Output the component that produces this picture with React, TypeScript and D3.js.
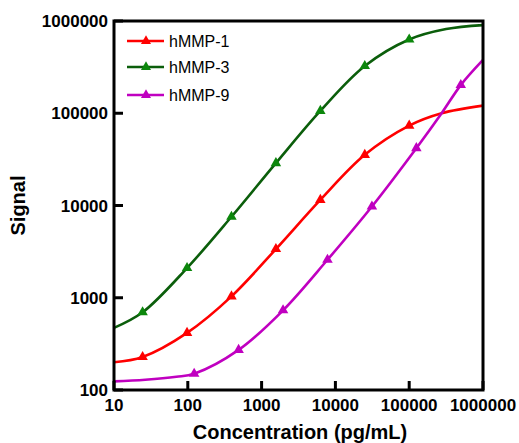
import React from "react";
import * as d3 from "d3";

// Measured points (concentration pg/mL, signal)
const concA = [24.4, 97.7, 390.6, 1562.5, 6250, 25000, 100000];
const concB = [122, 488, 1953, 7812, 31250, 125000, 500000];

const signalMMP1 = [228, 416, 1035, 3370, 11500, 35400, 73400];
const signalMMP3 = [695, 2100, 7550, 28800, 106000, 325000, 630000];
const signalMMP9 = [150, 272, 731, 2580, 9750, 41800, 202000];

// Extra points read on the fitted curves (outside / between the measured points)
const fitExtraConcMMP1 = [10, 275000, 1000000];
const fitExtraSignalMMP1 = [200, 100000, 121000];
const fitExtraConcMMP3 = [10, 316000, 1000000];
const fitExtraSignalMMP3 = [471, 817000, 903000];
const fitExtraConcMMP9 = [10, 26.5, 70, 275000, 1000000];
const fitExtraSignalMMP9 = [124, 129, 139, 100000, 378000];

const seriesNames = ["hMMP-1", "hMMP-3", "hMMP-9"];
const xTicks = [10, 100, 1000, 10000, 100000, 1000000];
const yTicks = [100, 1000, 10000, 100000, 1000000];
const xTitle = "Concentration (pg/mL)";
const yTitle = "Signal";

const FONT = "'Liberation Sans', Arial, Helvetica, sans-serif";

export default function App() {
  const W = 519, H = 443;
  const left = 114, right = 483, top = 21, bottom = 390;
  const x = d3.scaleLog().domain([10, 1e6]).range([left, right]);
  const y = d3.scaleLog().domain([100, 1e6]).range([bottom, top]);

  const series = [
    { name: seriesNames[0], conc: concA, sig: signalMMP1, ec: fitExtraConcMMP1, es: fitExtraSignalMMP1, line: "#ff0000", mark: "#ff0000" },
    { name: seriesNames[1], conc: concA, sig: signalMMP3, ec: fitExtraConcMMP3, es: fitExtraSignalMMP3, line: "#0b5e0b", mark: "#0c870c" },
    { name: seriesNames[2], conc: concB, sig: signalMMP9, ec: fitExtraConcMMP9, es: fitExtraSignalMMP9, line: "#c000c0", mark: "#c000c0" },
  ];

  const lineGen = d3
    .line<[number, number]>()
    .x((d) => x(d[0]))
    .y((d) => y(d[1]))
    .curve(d3.curveCatmullRom.alpha(0.5));

  const tri = d3.symbol().type(d3.symbolTriangle).size(48)();
  const triLegend = d3.symbol().type(d3.symbolTriangle).size(44)();

  const legendRows = [41, 67, 95];

  return (
    <svg width={W} height={H} style={{ position: "absolute", left: 0, top: 0 }} fontFamily={FONT}>
      <rect x={0} y={0} width={W} height={H} fill="#fff" />
      <defs>
        <clipPath id="plotclip">
          <rect x={left} y={top} width={right - left} height={bottom - top} />
        </clipPath>
      </defs>

      {/* curves */}
      <g clipPath="url(#plotclip)">
        {series.map((s) => {
          const pts: [number, number][] = s.conc
            .map((c, i) => [c, s.sig[i]] as [number, number])
            .concat(s.ec.map((c, i) => [c, s.es[i]] as [number, number]))
            .sort((a, b) => a[0] - b[0]);
          return (
            <path key={s.name} d={lineGen(pts) || ""} fill="none" stroke={s.line} strokeWidth={2.6} />
          );
        })}
      </g>
      {/* markers */}
      {series.map((s) =>
        s.conc.map((c, i) => (
          <path key={s.name + i} d={tri || ""} transform={`translate(${x(c)},${y(s.sig[i])})`} fill={s.mark} />
        ))
      )}

      {/* frame */}
      <rect x={left} y={top} width={right - left} height={bottom - top} fill="none" stroke="#000" strokeWidth={3} />

      {/* x ticks */}
      {xTicks.map((t) => (
        <g key={"x" + t}>
          <line x1={x(t)} x2={x(t)} y1={bottom} y2={bottom - 9} stroke="#000" strokeWidth={3} />
          <text x={x(t)} y={411} textAnchor="middle" fontSize={17} fontWeight="bold" fill="#000">
            {t}
          </text>
        </g>
      ))}
      {/* y ticks */}
      {yTicks.map((t) => (
        <g key={"y" + t}>
          <line x1={left} x2={left + 9} y1={y(t)} y2={y(t)} stroke="#000" strokeWidth={3} />
          <text x={108} y={y(t)} dy="0.36em" textAnchor="end" fontSize={17} fontWeight="bold" fill="#000">
            {t}
          </text>
        </g>
      ))}

      {/* axis titles */}
      <text x={300} y={439} textAnchor="middle" fontSize={20} fontWeight="bold" fill="#000">
        {xTitle}
      </text>
      <text
        transform={`translate(25,${(top + bottom) / 2}) rotate(-90)`}
        textAnchor="middle"
        fontSize={20}
        fontWeight="bold"
        fill="#000"
      >
        {yTitle}
      </text>

      {/* legend */}
      {series.map((s, i) => (
        <g key={"lg" + s.name}>
          <line x1={127} x2={164} y1={legendRows[i]} y2={legendRows[i]} stroke={s.line} strokeWidth={2.6} />
          <path d={triLegend || ""} transform={`translate(146,${legendRows[i]})`} fill={s.mark} />
          <text x={169} y={legendRows[i]} dy="0.36em" fontSize={16} fill="#000">
            {s.name}
          </text>
        </g>
      ))}
    </svg>
  );
}
